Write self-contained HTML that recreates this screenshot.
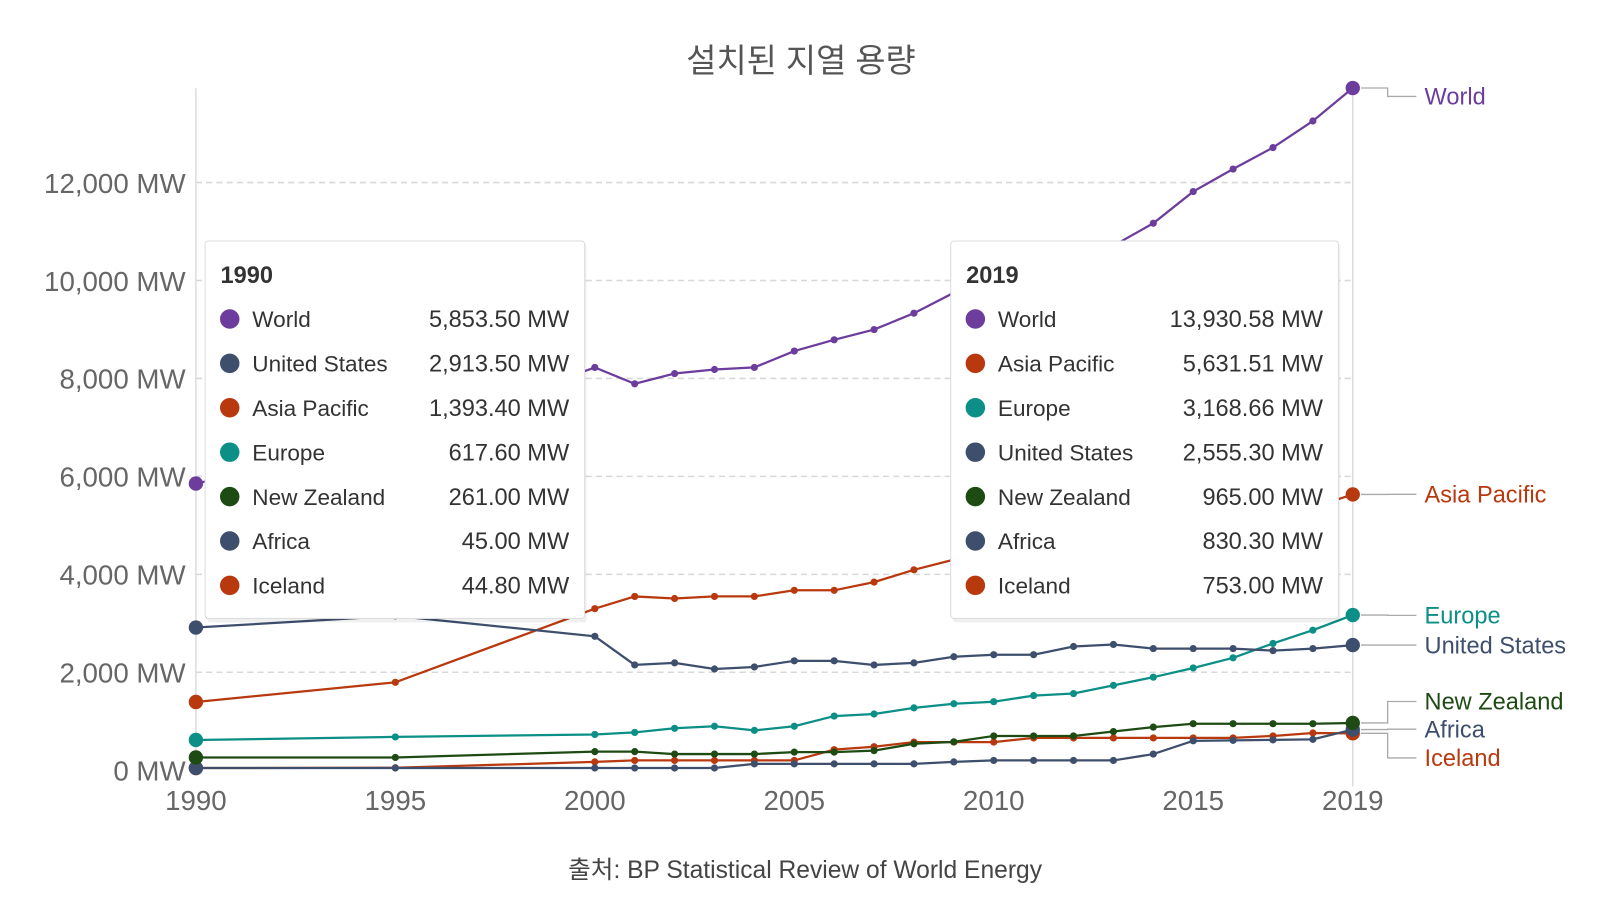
<!DOCTYPE html>
<html><head><meta charset="utf-8"><style>
body{margin:0;background:#fff;width:1600px;height:900px;overflow:hidden;font-family:"Liberation Sans","Noto Sans CJK KR",sans-serif}
svg text{font-family:"Liberation Sans","Noto Sans CJK KR",sans-serif}
</style></head><body>
<svg width="1600" height="900"><g id="c" transform="scale(1.0256)"></g></svg>
<script>
const years=[1990,1995,2000,2001,2002,2003,2004,2005,2006,2007,2008,2009,2010,2011,2012,2013,2014,2015,2016,2017,2018,2019];
const seriesNames=["World","United States","Asia Pacific","Europe","New Zealand","Africa","Iceland"];
const world=[5853.5,6743,8225,7891,8100,8183,8225,8559,8789,8998,9332,9750,9950,10125,10459,10710,11169,11816,12276,12714,13257,13930.58];
const us=[2913.5,3152,2735,2150,2192,2067,2109,2234,2234,2150,2192,2317,2359,2359,2526,2568,2484,2484,2484,2442,2484,2555.3];
const asia=[1393.4,1795,3298,3549,3507,3549,3549,3674,3674,3841,4092,4300,4342,4384,4447,4572,4781,4864,5073,5199,5366,5631.51];
const europe=[617.6,680,730,772,856,898,814,898,1106,1148,1273,1357,1399,1524,1566,1733,1900,2088,2296,2589,2860,3168.66];
const nz=[261,261,380,380,330,330,330,370,370,400,540,580,700,700,700,790,880,950,950,950,950,965];
const africa=[45,45,45,45,45,45,130,130,130,130,130,170,200,200,200,200,330,600,610,620,630,830.3];
const iceland=[44.8,50,170,200,200,200,200,200,420,480,575,575,575,660,660,660,660,660,660,700,760,753];
const yTicks=[0,2000,4000,6000,8000,10000,12000];
const xTicks=[1990,1995,2000,2005,2010,2015,2019];
const colors=["#6c3d9c","#3e4f6d","#b9390f","#0b8f86","#1d4b13","#3e4f6d","#b9390f"];
const data=[world,us,asia,europe,nz,africa,iceland];
const labelY=[94,629,482,600,684,711,739];
const X0=191,X1=1319;
const X=y=>X0+(y-1990)*(X1-X0)/29;
const Y=v=>751-v*(751-178)/12000;
const NS="http://www.w3.org/2000/svg";
const svg=document.getElementById('c');
function mk(t,a,p){const e=document.createElementNS(NS,t);for(const k in a)e.setAttribute(k,a[k]);(p||svg).appendChild(e);return e;}
let t=mk('text',{x:781,y:70,'text-anchor':'middle','font-size':32,fill:'#555'});t.textContent='설치된 지열 용량';


yTicks.forEach(v=>{
 if(v>0){const l=mk('line',{x1:X0,x2:X1,y1:Y(v),y2:Y(v),stroke:'#d8d8d8','stroke-width':1.5,'stroke-dasharray':'6,4'});
 
 }
 const tx=mk('text',{x:181,y:Y(v)+10,'text-anchor':'end','font-size':27,fill:'#666'});tx.textContent=v.toLocaleString('en-US')+' MW';
 
 
});
mk('line',{x1:X0,x2:X0,y1:86,y2:751,stroke:'#ddd','stroke-width':1.5});
mk('line',{x1:X1,x2:X1,y1:86,y2:767,stroke:'#ddd','stroke-width':1.5});
xTicks.forEach(y=>{const tx=mk('text',{x:X(y),y:790,'text-anchor':'middle','font-size':27,fill:'#666'});tx.textContent=y;
 
 });
const lx=1389;
for(let i=data.length-1;i>=0;i--){
 const py=Y(data[i][data[i].length-1]),ly=labelY[i];
 mk('polyline',{points:`${X1+8},${py} ${X1+34},${py} ${X1+34},${ly} ${lx-8},${ly}`,fill:'none',stroke:'#aaa','stroke-width':1.3});
}
for(let i=data.length-1;i>=0;i--){
 const g=mk('g',{});
 
 
 mk('polyline',{points:data[i].map((v,j)=>X(years[j])+','+Y(v)).join(' '),fill:'none',stroke:colors[i],'stroke-width':2.2},g);
 data[i].forEach((v,j)=>{const big=j==0||j==years.length-1;
  const c=mk('circle',{cx:X(years[j]),cy:Y(v),r:big?7:3.5,fill:colors[i]},g);
  
  });
 const tx=mk('text',{x:lx,y:labelY[i]+8,'font-size':23,fill:colors[i]});tx.textContent=seriesNames[i];
 
 
}
function tip(x,w,title,order){
 const g=mk('g',{});
 
 
 mk('rect',{x:x+2,y:237,width:w,height:370,rx:3,fill:'rgba(0,0,0,0.06)'},g);
 mk('rect',{x:x,y:235,width:w,height:368,rx:3,fill:'#fff',stroke:'#ddd'},g);
 const h=mk('text',{x:x+15,y:276,'font-size':23,'font-weight':'bold',fill:'#333'},g);h.textContent=title;
 order.forEach((r,k)=>{const yy=311+k*43.3;
  mk('circle',{cx:x+24,cy:yy,r:9.5,fill:colors[r[0]]},g);
  const a=mk('text',{x:x+46,y:yy+8,'font-size':22,fill:'#333'},g);a.textContent=seriesNames[r[0]];
  const b=mk('text',{x:x+w-15,y:yy+8,'font-size':23,fill:'#333','text-anchor':'end'},g);b.textContent=r[1];});
}
const fmt=v=>v.toLocaleString('en-US',{minimumFractionDigits:2,maximumFractionDigits:2})+' MW';
const L=years.length-1;
tip(200,370,'1990',[0,1,2,3,4,5,6].map(i=>[i,fmt(data[i][0])]));
tip(927,378,'2019',[0,2,3,1,4,5,6].map(i=>[i,fmt(data[i][L])]));
t=mk('text',{x:785,y:856,'text-anchor':'middle','font-size':24,fill:'#444'});t.textContent='출처: BP Statistical Review of World Energy';


</script>
</body></html>
